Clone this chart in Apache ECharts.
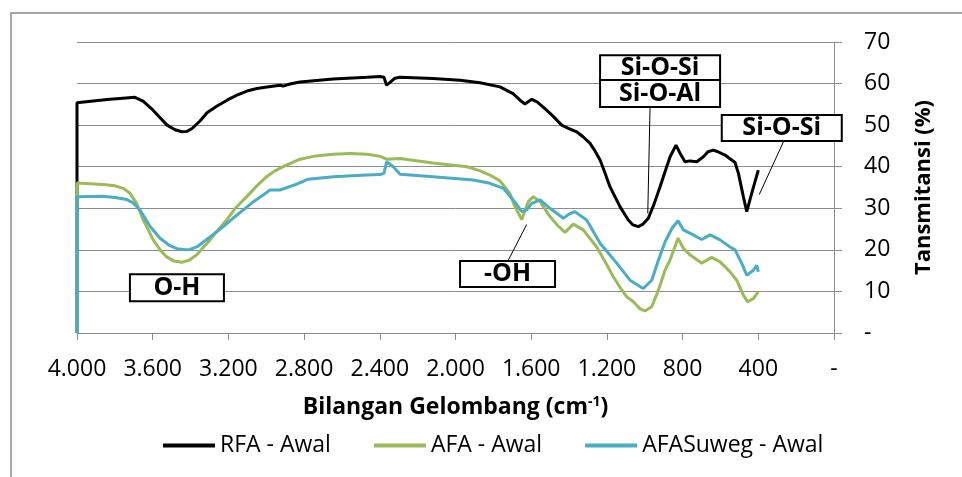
<!DOCTYPE html>
<html>
<head>
<meta charset="utf-8">
<script src="https://cdn.jsdelivr.net/npm/echarts@6/dist/echarts.min.js"></script>
<style>
html,body{margin:0;padding:0;background:#fff;}
#chart{width:962px;height:477px;}
</style>
</head>
<body>
<div id="chart"></div>
<script>
// ---- Data (wavenumber cm-1, transmittance %) ----
const seriesNames = ['RFA - Awal', 'AFA - Awal', 'AFASuweg - Awal'];

const rfaWn = [4000,4000,3878,3826,3773,3694,3651,3598,3561,3524,3482,3445,3419,3392,3350,3313,3260,3207,3155,3102,3049,2996,2927,2911,2875,2822,2647,2468,2399,2378,2364,2346,2320,2293,2119,1976,1870,1765,1696,1659,1633,1597,1569,1538,1490,1439,1406,1360,1326,1289,1263,1236,1210,1184,1131,1087,1062,1034,1009,981,951,919,892,866,835,813,787,761,725,690,666,638,613,576,523,505,479,461,435,400];
const rfaT  = [0,55.4,56.0,56.2,56.4,56.7,55.8,53.6,51.8,50.0,48.9,48.4,48.5,49.2,51.0,53.0,54.6,56.0,57.2,58.2,58.8,59.2,59.6,59.4,59.9,60.4,61.1,61.5,61.7,61.5,59.6,60.3,61.3,61.5,61.2,60.8,60.2,59.2,57.6,56.0,55.1,56.2,55.6,54.4,52.4,50.0,49.3,48.4,47.2,45.6,43.8,41.6,38.5,35.2,30.4,27.2,26.0,25.6,26.2,27.6,31.0,35.2,38.9,42.4,45.2,43.2,41.2,41.4,41.2,42.4,43.6,44.0,43.6,42.8,41.0,38.4,32.8,29.2,33.6,39.2];

const afaWn = [4000,4000,3863,3799,3755,3720,3685,3650,3597,3561,3526,3487,3447,3408,3367,3334,3297,3255,3209,3160,3103,3054,2998,2954,2910,2822,2737,2647,2557,2468,2399,2364,2293,2119,1939,1870,1818,1765,1712,1686,1650,1615,1589,1553,1501,1459,1421,1378,1325,1254,1210,1166,1131,1095,1060,1025,999,963,928,893,867,841,824,796,761,699,646,602,549,514,479,456,426,400];
const afaT  = [0,36.1,35.7,35.4,34.8,33.6,31.2,27.2,22.4,20.0,18.3,17.3,17.0,17.5,18.8,20.5,22.4,24.8,27.2,30.2,32.8,35.2,37.6,39.0,40.0,41.8,42.6,43.0,43.2,43.0,42.5,41.8,42.0,40.9,40.0,39.0,38.0,36.6,33.5,30.4,27.3,31.6,32.8,31.6,28.0,25.8,24.2,26.2,24.8,20.7,17.2,13.5,11.0,8.7,7.5,5.8,5.3,6.3,10.3,15.1,17.5,20.7,22.8,20.4,18.8,16.8,18.2,17.1,14.7,12.7,9.1,7.5,8.3,9.9];

const suwegWn = [4000,4000,3863,3799,3737,3703,3667,3614,3561,3509,3472,3429,3403,3367,3297,3227,3176,3121,3070,3016,2980,2927,2839,2778,2646,2469,2399,2378,2364,2329,2293,2119,1906,1818,1747,1695,1650,1624,1597,1553,1501,1430,1400,1369,1307,1236,1148,1078,1008,963,928,893,856,824,796,744,699,655,602,549,523,488,461,426,408,400];
const suwegT  = [0,32.8,32.9,32.6,32.1,31.3,29.6,25.6,22.8,21.0,20.3,20.0,20.1,20.7,23.1,25.6,27.6,29.6,31.5,33.2,34.4,34.4,35.8,37.0,37.6,38.0,38.1,38.4,41.2,40.0,38.2,37.6,36.8,36.0,34.8,32.0,29.2,29.6,31.2,32.0,30.0,27.6,28.6,29.2,27.2,21.6,16.8,12.7,10.7,12.7,17.5,21.9,25.2,27.0,24.8,23.6,22.5,23.6,22.4,20.7,20.0,16.8,13.9,15.1,16.3,14.7];

// ---- Tick labels ----
const xTickValues = [0,400,800,1200,1600,2000,2400,2800,3200,3600,4000];
const xTickLabels = ['-','400','800','1.200','1.600','2.000','2.400','2.800','3.200','3.600','4.000'];
const yTickValues = [0,10,20,30,40,50,60,70];
const yTickLabels = ['-','10','20','30','40','50','60','70'];

// ---- Annotations (data coords) ----
const annoText   = ['Si-O-Si','Si-O-Al','Si-O-Si','O-H','-OH'];
const annoWn     = [919, 919, 276, 3472, 1725];
const annoT      = [63.8, 57.6, 49.3, 10.9, 14.2];
const leaderFrom = [[972,54.4],[259,46.8],[1721,17.5]];
const leaderTo   = [[984,28.8],[395,33.3],[1624,26.1]];
const annoSize   = [[118,23],[118,25],[118,24],[92,25],[93,24]];

const pair = (xs, ys) => xs.map((x,i) => [x, ys[i]]);
const FONT = 'Open Sans';
const GRAY = '#8c8c8c';

const chart = echarts.init(document.getElementById('chart'), null, {renderer:'canvas'});

const markPointData = annoText.map((t,i) => ({
  name: t, coord: [annoWn[i], annoT[i]],
  symbol: 'circle', symbolSize: 1,
  itemStyle: {color:'rgba(0,0,0,0)'},
  label: {show:true, position:'inside', formatter: t, color:'#000', fontFamily: FONT, fontWeight:'bold', fontSize:25,
    backgroundColor:'#fff', borderColor:'#000', borderWidth:2, padding:0,
    width: annoSize[i][0], height: annoSize[i][1], lineHeight: annoSize[i][1],
    align:'center', verticalAlign:'middle'}
}));
const markLineData = leaderFrom.map((f,i) => [{coord:f},{coord:leaderTo[i]}]);

const lineSeries = (name, data, color, extra) => Object.assign({
  name, type:'line', data, showSymbol:false, symbol:'none', smooth:false,
  lineStyle:{color, width:3}, itemStyle:{color}, animation:false, silent:true
}, extra || {});

chart.setOption({
  animation:false,
  backgroundColor:'#fff',
  textStyle:{fontFamily:FONT},
  grid:{left:77, right:128, top:42, bottom:144, containLabel:false},
  graphic:[{type:'rect', shape:{x:11,y:13,width:1000,height:500}, style:{fill:'none', stroke:GRAY, lineWidth:1.5}, silent:true, z:-10}],
  legend:{
    data: seriesNames, left:158, top:429, icon:'rect', itemWidth:52, itemHeight:4, itemGap:43,
    textStyle:{fontFamily:FONT, fontSize:23, color:'#000'}
  },
  xAxis:{
    type:'value', min:0, max:4000, interval:400, inverse:true,
    name:'{b|Bilangan Gelombang (cm}{s|-1}{b|)}', nameLocation:'middle', nameGap:62,
    nameTextStyle:{rich:{
      b:{fontFamily:FONT, fontWeight:'bold', fontSize:23, color:'#000'},
      s:{fontFamily:FONT, fontWeight:'bold', fontSize:14, color:'#000', verticalAlign:'top', padding:[0,0,10,0]}
    }},
    axisLine:{show:true, lineStyle:{color:GRAY, width:1}},
    axisTick:{show:true, length:7, lineStyle:{color:GRAY}},
    splitLine:{show:false},
    axisLabel:{margin:25, fontFamily:FONT, fontSize:23, color:'#000',
      formatter: v => xTickLabels[xTickValues.indexOf(v)]}
  },
  yAxis:{
    type:'value', position:'right', min:0, max:70, interval:10,
    name:'Tansmitansi (%)', nameLocation:'middle', nameRotate:90, nameGap:79,
    nameTextStyle:{fontFamily:FONT, fontWeight:'bold', fontSize:22, color:'#000'},
    axisLine:{show:true, lineStyle:{color:GRAY, width:1}},
    axisTick:{show:true, length:8, lineStyle:{color:GRAY}},
    splitLine:{show:true, lineStyle:{color:GRAY, width:1}},
    axisLabel:{margin:30, fontFamily:FONT, fontSize:23, color:'#000', align:'left',
      formatter: v => yTickLabels[yTickValues.indexOf(v)]}
  },
  series:[
    lineSeries(seriesNames[0], pair(rfaWn, rfaT), '#000000'),
    lineSeries(seriesNames[1], pair(afaWn, afaT), '#9BBB59'),
    lineSeries(seriesNames[2], pair(suwegWn, suwegT), '#4BACC6', {
      markLine:{silent:true, symbol:['none','none'], animation:false, label:{show:false},
        lineStyle:{color:'#000', width:1, type:'solid'}, emphasis:{disabled:true}, data:markLineData},
      markPoint:{silent:true, animation:false, data:markPointData}
    })
  ]
});
</script>
</body>
</html>
